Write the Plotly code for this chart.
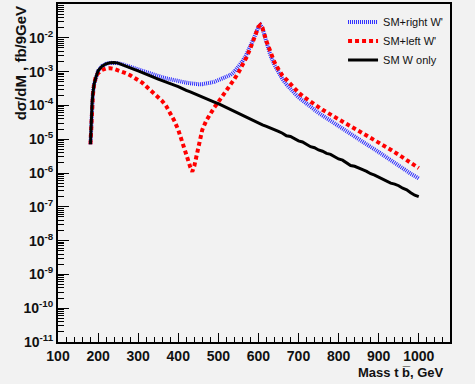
import plotly.graph_objects as go

# ---------------- data ----------------
mass_sm = [181, 183, 185, 187, 190, 195, 200, 210, 220, 230, 240, 250, 260, 270, 280, 290,
           300, 310, 320, 330, 340, 350, 360, 370, 380, 390, 400, 410, 420, 430, 440, 450,
           460, 470, 480, 490, 500, 510, 520, 530, 540, 550, 560, 570, 580, 590, 600, 610,
           620, 630, 640, 650, 660, 670, 680, 690, 700, 710, 720, 730, 740, 750, 760, 770,
           780, 790, 800, 810, 820, 830, 840, 850, 860, 870, 880, 890, 900, 910, 920, 930,
           940, 950, 960, 970, 980, 990, 1000]
sm_w_only = [7.1e-6, 4.0e-5, 1.12e-4, 2.24e-4, 4.2e-4, 7.1e-4, 1.05e-3, 1.45e-3, 1.70e-3, 1.82e-3,
             1.86e-3, 1.78e-3, 1.62e-3, 1.45e-3, 1.29e-3, 1.17e-3, 1.05e-3, 9.3e-4, 8.3e-4, 7.6e-4,
             6.8e-4, 6.0e-4, 5.4e-4, 4.8e-4, 4.4e-4, 4.0e-4, 3.6e-4, 3.25e-4, 2.8e-4, 2.5e-4,
             2.25e-4, 2.0e-4, 1.74e-4, 1.58e-4, 1.41e-4, 1.26e-4, 1.12e-4, 9.8e-5, 8.7e-5, 7.6e-5,
             6.8e-5, 5.9e-5, 5.0e-5, 4.4e-5, 3.8e-5, 3.45e-5, 3.0e-5, 2.65e-5, 2.4e-5, 2.1e-5,
             1.86e-5, 1.7e-5, 1.5e-5, 1.26e-5, 1.2e-5, 1.02e-5, 8.9e-6, 8.3e-6, 7.2e-6, 6.0e-6,
             5.6e-6, 4.8e-6, 4.4e-6, 3.8e-6, 3.55e-6, 3.0e-6, 2.6e-6, 2.4e-6, 2.0e-6, 1.66e-6,
             1.58e-6, 1.38e-6, 1.26e-6, 1.12e-6, 9.5e-7, 8.7e-7, 7.6e-7, 6.3e-7, 5.75e-7, 5.0e-7,
             4.7e-7, 4.2e-7, 3.55e-7, 3.2e-7, 2.6e-7, 2.2e-7, 2.0e-7]

mass_wp = [181, 183, 185, 187, 190, 195, 200, 210, 220, 230, 240, 250, 260, 270, 280, 290,
           300, 310, 320, 330, 340, 350, 360, 370, 380, 390, 400, 410, 420, 430, 435, 440,
           450, 460, 470, 480, 490, 500, 510, 520, 530, 540, 550, 560, 570, 580, 590, 600,
           605, 610, 620, 630, 640, 650, 660, 670, 680, 690, 700, 710, 720, 730, 740, 750,
           760, 770, 780, 790, 800, 810, 820, 830, 840, 850, 860, 870, 880, 890, 900, 910,
           920, 930, 940, 950, 960, 970, 980, 990, 1000]
sm_right_wp = [7.1e-6, 4.0e-5, 1.12e-4, 2.24e-4, 4.2e-4, 7.1e-4, 1.05e-3, 1.45e-3, 1.70e-3, 1.82e-3,
               1.86e-3, 1.78e-3, 1.66e-3, 1.51e-3, 1.38e-3, 1.26e-3, 1.15e-3, 1.05e-3, 9.5e-4, 8.7e-4,
               7.9e-4, 7.2e-4, 6.8e-4, 6.3e-4, 5.9e-4, 5.5e-4, 5.1e-4, 4.9e-4, 4.7e-4, 4.5e-4,
               4.4e-4, 4.35e-4, 4.25e-4, 4.25e-4, 4.35e-4, 4.7e-4, 5.0e-4, 5.6e-4, 6.3e-4, 7.2e-4,
               7.9e-4, 1.0e-3, 1.38e-3, 2.0e-3, 3.2e-3, 5.5e-3, 1.05e-2, 2.1e-2,
               2.4e-2, 1.9e-2, 7.1e-3, 3.0e-3, 1.58e-3, 9.3e-4, 6.0e-4, 4.2e-4, 3.0e-4, 2.3e-4,
               1.74e-4, 1.38e-4, 1.1e-4, 8.9e-5, 7.4e-5, 6.0e-5, 5.0e-5, 4.2e-5, 3.45e-5, 2.9e-5,
               2.4e-5, 2.0e-5, 1.66e-5, 1.38e-5, 1.15e-5, 9.5e-6, 8.1e-6, 6.9e-6, 5.9e-6, 5.0e-6,
               4.2e-6, 3.45e-6, 2.9e-6, 2.4e-6, 2.0e-6, 1.66e-6, 1.38e-6, 1.15e-6, 9.5e-7, 7.9e-7,
               6.9e-7]
sm_left_wp = [7.1e-6, 3.2e-5, 8.9e-5, 2.0e-4, 4.2e-4, 7.6e-4, 8.9e-4, 1.12e-3, 1.23e-3, 1.26e-3,
              1.2e-3, 1.1e-3, 1.0e-3, 8.9e-4, 7.8e-4, 6.8e-4, 5.6e-4, 4.7e-4, 3.7e-4, 2.95e-4,
              2.35e-4, 1.82e-4, 1.35e-4, 9.5e-5, 6.0e-5, 3.55e-5, 1.9e-5, 8.9e-6, 3.55e-6, 1.5e-6,
              1.1e-6, 1.6e-6, 6.6e-6, 1.9e-5, 3.55e-5, 5.75e-5, 8.7e-5, 1.26e-4, 1.82e-4, 2.7e-4,
              4.0e-4, 6.0e-4, 9.3e-4, 1.5e-3, 2.6e-3, 4.9e-3, 1.02e-2, 2.1e-2,
              2.4e-2, 2.0e-2, 7.9e-3, 3.55e-3, 1.9e-3, 1.17e-3, 7.6e-4, 5.75e-4, 4.2e-4, 3.2e-4,
              2.4e-4, 1.9e-4, 1.55e-4, 1.29e-4, 1.07e-4, 8.9e-5, 7.4e-5, 6.3e-5, 5.4e-5, 4.6e-5,
              3.9e-5, 3.3e-5, 2.8e-5, 2.4e-5, 2.1e-5, 1.78e-5, 1.55e-5, 1.32e-5, 1.15e-5, 9.8e-6,
              8.3e-6, 6.9e-6, 5.75e-6, 4.9e-6, 4.2e-6, 3.5e-6, 2.9e-6, 2.4e-6, 2.0e-6, 1.66e-6,
              1.4e-6]

y_exponents = [-11, -10, -9, -8, -7, -6, -5, -4, -3, -2]
x_ticks = [100, 200, 300, 400, 500, 600, 700, 800, 900, 1000]

# ---------------- figure ----------------
fig = go.Figure()
fig.add_trace(go.Scatter(x=mass_wp, y=sm_right_wp, mode="lines", name="SM+right W'",
                         line=dict(color="#2a2aff", width=4, dash="1px,1px"), legendrank=1))
fig.add_trace(go.Scatter(x=mass_wp, y=sm_left_wp, mode="lines", name="SM+left W'",
                         line=dict(color="#ff0000", width=4, dash="4px,3px"), legendrank=2))
fig.add_trace(go.Scatter(x=mass_sm, y=sm_w_only, mode="lines", name="SM W only",
                         line=dict(color="#000000", width=3), legendrank=3))

y_tickvals = [10.0 ** e for e in y_exponents]
y_ticktext = ["10<sup>%d</sup>" % e for e in y_exponents]
y_minor = [m * 10.0 ** e for e in y_exponents for m in range(2, 10)]

font_family = "Liberation Sans, Arial, sans-serif"
tickfont = dict(family=font_family, size=14, color="#111", weight="bold")

fig.update_layout(
    width=475, height=384,
    margin=dict(l=58, r=25, t=4, b=42),
    paper_bgcolor="#f2f2f2", plot_bgcolor="#f2f2f2",
    showlegend=True,
    legend=dict(x=0.995, y=0.99, xanchor="right", yanchor="top", bgcolor="rgba(255,255,255,0)",
                font=dict(family=font_family, size=11, color="#111"),
                itemwidth=30, tracegroupgap=0),
    xaxis=dict(range=[100, 1078], tickvals=x_ticks, ticks="inside", ticklen=9, tickwidth=1,
               tickcolor="black", showgrid=False, zeroline=False, showline=True, linecolor="black",
               linewidth=2, mirror=True, tickfont=tickfont, automargin=False,
               minor=dict(dtick=20, tick0=100, ticks="inside", ticklen=5, tickcolor="black", showgrid=False)),
    yaxis=dict(type="log", range=[-11, -1], tickvals=y_tickvals, ticktext=y_ticktext,
               ticks="inside", ticklen=11, tickwidth=1, tickcolor="black", showgrid=False,
               zeroline=False, showline=True, linecolor="black", linewidth=2, mirror=True,
               tickfont=tickfont, automargin=False,
               minor=dict(tickmode="array", tickvals=y_minor, ticks="inside", ticklen=6,
                          tickcolor="black", showgrid=False)),
    annotations=[
        dict(text="dσ/dM , fb/9GeV", xref="paper", yref="paper", x=-0.096, y=1.0,
             xanchor="center", yanchor="top", textangle=-90, showarrow=False,
             font=dict(family=font_family, size=15, color="#111", weight="bold")),
        dict(text="Mass t b\u0305, GeV", xref="paper", yref="paper", x=0.99, y=-0.089,
             xanchor="right", yanchor="middle", showarrow=False,
             font=dict(family=font_family, size=13, color="#111", weight="bold")),
    ],
)

fig.write_html("out.html", config={"displayModeBar": False},
               post_script="document.body.style.margin='0';document.body.style.background='#f2f2f2';")
